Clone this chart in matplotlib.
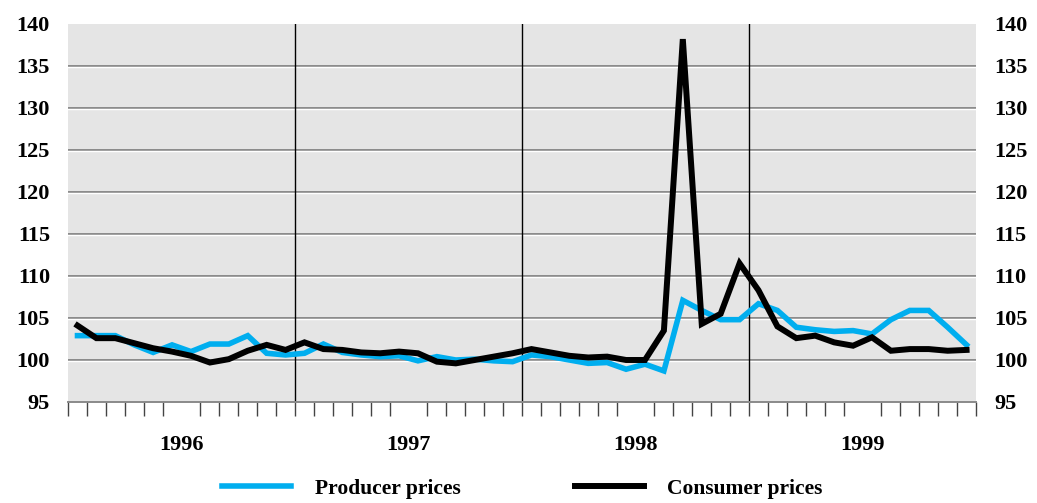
import numpy as np
import matplotlib.pyplot as plt

# monthly index values, Jan 1996 - Dec 1999
years = ["1996", "1997", "1998", "1999"]
producer = [102.9, 102.9, 102.9, 101.8, 100.9, 101.8, 101.0, 101.9, 101.9, 102.9, 100.8, 100.6,
            100.8, 101.9, 100.9, 100.6, 100.4, 100.5, 99.9, 100.4, 100.0, 100.1, 99.9, 99.8,
            100.6, 100.4, 100.0, 99.6, 99.7, 98.9, 99.5, 98.7, 107.1, 105.9, 104.8, 104.8,
            106.7, 105.9, 103.9, 103.6, 103.4, 103.5, 103.1, 104.8, 105.9, 105.9, 103.9, 101.8]
consumer = [104.1, 102.6, 102.6, 102.0, 101.4, 101.0, 100.5, 99.7, 100.1, 101.1, 101.8, 101.2,
            102.1, 101.3, 101.2, 100.9, 100.8, 101.0, 100.8, 99.8, 99.6, 100.0, 100.4, 100.8,
            101.3, 100.9, 100.5, 100.3, 100.4, 100.0, 100.0, 103.5, 138.2, 104.3, 105.5, 111.5,
            108.3, 104.0, 102.6, 102.9, 102.1, 101.7, 102.7, 101.1, 101.3, 101.3, 101.1, 101.2]
yticks = [95, 100, 105, 110, 115, 120, 125, 130, 135, 140]

font = "Liberation Serif"
x = np.arange(len(producer)) + 0.5

fig = plt.figure(figsize=(10.37, 5.03), dpi=100)
ax = fig.add_axes([0.0656, 0.2008, 0.8756, 0.7515])
ax.set_facecolor("#e5e5e5")
ax.set_xlim(0, 48)
ax.set_ylim(95, 140)

# gridlines with a white highlight just below
for v in yticks[1:-1]:
    ax.axhline(v, color="#8a8a8a", lw=1.4, zorder=1)
    ax.axhline(v - 0.17, color="white", lw=1.0, zorder=1)
for b in [12, 24, 36]:
    ax.axvline(b, color="black", lw=1.0, zorder=2)

ax.plot(x, producer, color="#00aeef", lw=4.0, solid_joinstyle="miter", zorder=3,
        label="Producer prices")
ax.plot(x, consumer, color="black", lw=4.3, solid_joinstyle="miter", zorder=4,
        label="Consumer prices")

for s in ["top", "left", "right"]:
    ax.spines[s].set_visible(False)
ax.spines["bottom"].set_color("#8a8a8a")
ax.spines["bottom"].set_linewidth(1.4)

# month boundary ticks (minor), year labels (major)
ax.set_xticks(np.arange(0, 49), minor=True)
ax.tick_params(axis="x", which="minor", direction="out", length=10, width=1.0, color="#444444")
ax.set_xticks([6, 18, 30, 42])
ax.set_xticklabels(years, fontfamily=font, fontweight="bold", fontsize=16)
ax.tick_params(axis="x", which="major", length=0, pad=24)

ax.set_yticks(yticks)
ax.set_yticklabels([str(v) for v in yticks], fontfamily=font, fontweight="bold", fontsize=16)
ax.tick_params(axis="y", length=0, labelleft=True, labelright=True, pad=13)

fig.legend(loc="lower center", bbox_to_anchor=(0.504, -0.03), ncol=2, frameon=False,
           prop={"family": font, "weight": "bold", "size": 15.5},
           handlelength=3.2, handletextpad=1.1, columnspacing=5.3)

fig.savefig("out.png", dpi=100)
